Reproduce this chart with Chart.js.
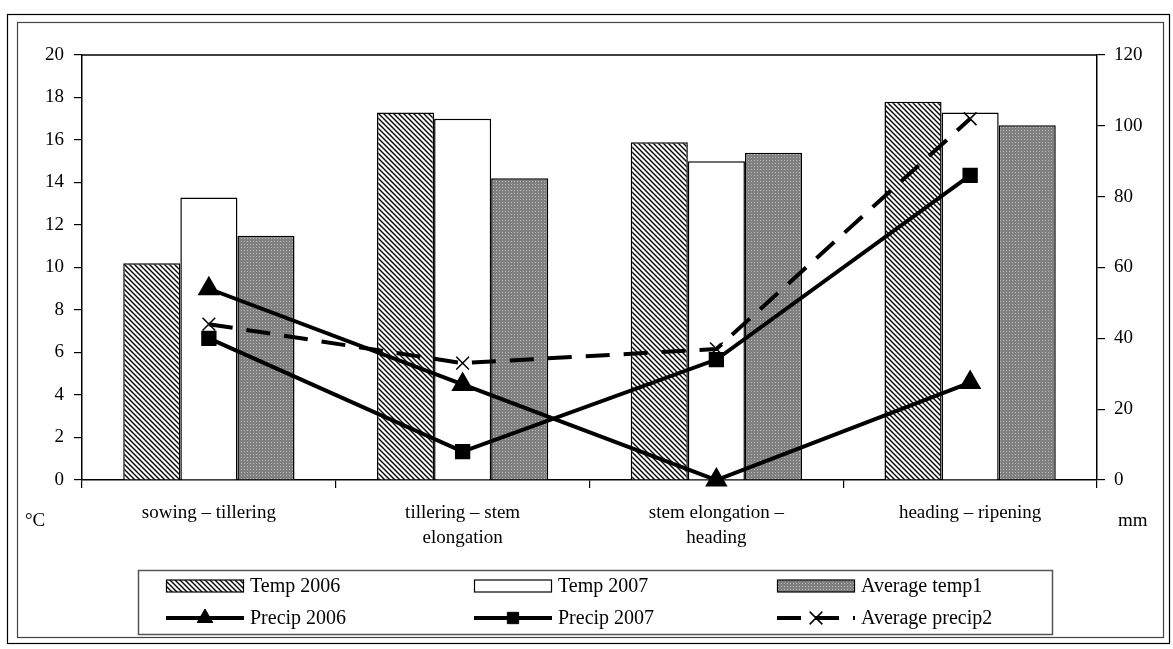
<!DOCTYPE html>
<html>
<head>
<meta charset="utf-8">
<script src="https://cdn.jsdelivr.net/npm/chart.js@4.4.1/dist/chart.umd.min.js"></script>
<style>
  html, body { margin: 0; padding: 0; background: #fff; }
  #wrap { width: 1173px; height: 649px; }
</style>
</head>
<body>
<div id="wrap"><canvas id="c"></canvas></div>
<script>
// growth stages and values
const stages = [
  ['sowing \u2013 tillering'],
  ['tillering \u2013 stem', 'elongation'],
  ['stem elongation \u2013', 'heading'],
  ['heading \u2013 ripening']
];
const temp2006 = [10.2, 17.3, 15.9, 17.8];
const temp2007 = [13.3, 17.0, 15.0, 17.3];
const avgTemp = [11.5, 14.2, 15.4, 16.7];
const precip2006 = [54, 27, 0, 27.5];
const precip2007 = [40, 8, 34, 86];
const avgPrecip = [44, 33, 37, 102];

const FONT = 'Liberation Serif';

// fill patterns for the bars
function hatch() {
  const p = document.createElement('canvas');
  p.width = 5; p.height = 5;
  const g = p.getContext('2d');
  g.fillStyle = '#fff';
  g.fillRect(0, 0, 5, 5);
  g.strokeStyle = '#000';
  g.lineWidth = 1.4;
  g.beginPath();
  g.moveTo(-1, -1); g.lineTo(6, 6);
  g.moveTo(-1, 4); g.lineTo(1, 6);
  g.moveTo(4, -1); g.lineTo(6, 1);
  g.stroke();
  return g.createPattern(p, 'repeat');
}
function dots() {
  const p = document.createElement('canvas');
  p.width = 3; p.height = 3;
  const g = p.getContext('2d');
  g.fillStyle = '#808080';
  g.fillRect(0, 0, 3, 3);
  g.fillStyle = '#b8b8b8';
  g.fillRect(1, 1, 1, 1);
  return g.createPattern(p, 'repeat');
}
const hatchFill = hatch();
const dotFill = dots();

// frame, unit labels and the boxed legend
const decor = {
  id: 'decor',
  beforeDraw(chart) {
    const c = chart.ctx;
    c.save();
    c.fillStyle = '#fff';
    c.fillRect(0, 0, chart.width, chart.height);
    c.restore();
  },
  afterDraw(chart) {
    const c = chart.ctx;
    const a = chart.chartArea;
    c.save();
    c.strokeStyle = '#000';
    c.lineWidth = 1.2;
    c.strokeRect(7.5, 14.5, 1162, 629);
    c.strokeStyle = '#444';
    c.strokeRect(17.5, 22.5, 1146, 615);
    // plot area top edge
    c.strokeStyle = '#000';
    c.lineWidth = 1.5;
    c.beginPath();
    c.moveTo(a.left, a.top); c.lineTo(a.right, a.top);
    c.stroke();

    c.fillStyle = '#000';
    c.font = '19px "' + FONT + '"';
    c.textBaseline = 'middle';
    c.textAlign = 'left';
    c.fillText('\u00B0C', 25, 521);
    c.fillText('mm', 1118, 521);

    // legend box
    c.strokeStyle = '#555';
    c.lineWidth = 1.5;
    c.strokeRect(138.5, 570.5, 914, 64);
    const ds = chart.data.datasets;
    const cols = [166, 474, 777];
    const rows = [586, 618];
    c.font = '20px "' + FONT + '"';
    for (let i = 0; i < 3; i++) {
      const d = ds[i];
      const x = cols[i], y = rows[0];
      c.fillStyle = d.backgroundColor;
      c.fillRect(x, y - 6, 77, 12);
      c.strokeStyle = '#000';
      c.lineWidth = 1.2;
      c.strokeRect(x + 0.5, y - 6, 77, 12);
      c.fillStyle = '#000';
      c.fillText(d.label, x + 84, y + 1);
    }
    for (let i = 3; i < 6; i++) {
      const d = ds[i];
      const x = cols[i - 3], y = rows[1];
      c.strokeStyle = '#000';
      c.lineWidth = 4;
      c.setLineDash(d.borderDash || []);
      c.beginPath();
      c.moveTo(x, y); c.lineTo(x + 78, y);
      c.stroke();
      c.setLineDash([]);
      c.lineWidth = d.pointBorderWidth || 1;
      c.fillStyle = '#000';
      Chart.helpers.drawPoint(c, {
        pointStyle: d.pointStyle, radius: d.pointRadius,
        borderWidth: d.pointBorderWidth || 1, rotation: 0
      }, x + 39, y);
      c.fillStyle = '#000';
      c.fillText(d.label, x + 84, y + 1);
    }
    c.restore();
  }
};

new Chart(document.getElementById('c'), {
  type: 'bar',
  data: {
    labels: stages,
    datasets: [
      { label: 'Temp 2006', data: temp2006, backgroundColor: hatchFill, borderColor: '#000', borderWidth: 1.5, yAxisID: 'y', order: 2 },
      { label: 'Temp 2007', data: temp2007, backgroundColor: '#fff', borderColor: '#000', borderWidth: 1.5, yAxisID: 'y', order: 2 },
      { label: 'Average temp1', data: avgTemp, backgroundColor: dotFill, borderColor: '#000', borderWidth: 1.5, yAxisID: 'y', order: 2 },
      { type: 'line', label: 'Precip 2006', data: precip2006, yAxisID: 'y2', order: 1,
        borderColor: '#000', borderWidth: 4, pointStyle: 'triangle', pointRadius: 9,
        pointBackgroundColor: '#000', pointBorderColor: '#000', clip: false },
      { type: 'line', label: 'Precip 2007', data: precip2007, yAxisID: 'y2', order: 1,
        borderColor: '#000', borderWidth: 4, pointStyle: 'rect', pointRadius: 8,
        pointBackgroundColor: '#000', pointBorderColor: '#000', clip: false },
      { type: 'line', label: 'Average precip2', data: avgPrecip, yAxisID: 'y2', order: 1,
        borderColor: '#000', borderWidth: 4, borderDash: [24, 14], pointStyle: 'crossRot', pointRadius: 9,
        pointBorderWidth: 1.5, pointBackgroundColor: '#000', pointBorderColor: '#000', clip: false }
    ]
  },
  options: {
    responsive: true,
    maintainAspectRatio: false,
    animation: false,
    layout: { padding: { top: 55, left: 0, right: 0, bottom: 0 } },
    plugins: { legend: { display: false }, tooltip: { enabled: false } },
    datasets: { bar: { categoryPercentage: 0.675, barPercentage: 1 } },
    scales: {
      x: {
        grid: { drawOnChartArea: false, tickLength: 8, color: '#000', lineWidth: 1.2, offset: true },
        border: { color: '#000', width: 1.5 },
        ticks: { color: '#000', padding: 13, maxRotation: 0, font: { family: FONT, size: 19, lineHeight: 1.3 } },
        afterFit(s) { s.height = 169; }
      },
      y: {
        position: 'left', min: 0, max: 20,
        grid: { drawOnChartArea: false, tickLength: 8, color: '#000', lineWidth: 1.2 },
        border: { color: '#000', width: 1.5 },
        ticks: { stepSize: 2, color: '#000', padding: 10, font: { family: FONT, size: 19 } },
        afterFit(s) { s.width = 82; }
      },
      y2: {
        position: 'right', min: 0, max: 120,
        grid: { drawOnChartArea: false, tickLength: 8, color: '#000', lineWidth: 1.2 },
        border: { color: '#000', width: 1.5 },
        ticks: { stepSize: 20, color: '#000', padding: 9, font: { family: FONT, size: 19 } },
        afterFit(s) { s.width = 76; }
      }
    }
  },
  plugins: [decor]
});
</script>
</body>
</html>
